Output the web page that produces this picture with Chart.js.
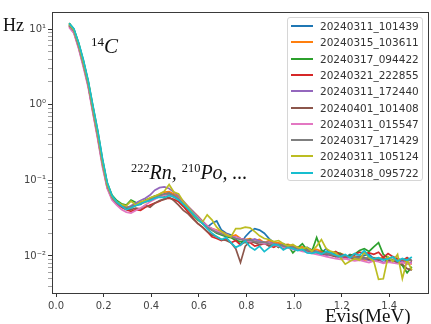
<!DOCTYPE html>
<html>
<head>
<meta charset="utf-8">
<script src="https://cdn.jsdelivr.net/npm/chart.js@4"></script>
<style>
  body { margin: 0; background: #fff; }
  #wrap { position: relative; width: 431px; height: 324px; overflow: hidden; }
  #legend { position: absolute; left: 287px; top: 17px; width: 136px; height: 164px;
    border: 1px solid #d6d6d6; border-radius: 3px; background: rgba(255,255,255,0.8);
    font: 10.5px "DejaVu Sans", sans-serif; color: #333; box-sizing: border-box; }
  .row { position: absolute; left: 0; height: 14px; line-height: 14px; white-space: nowrap; }
  .sw { position: absolute; left: 3px; top: 6px; width: 22px; height: 2px; }
  .lbl { position: absolute; left: 32px; }
  .serif { position: absolute; font-family: "Liberation Serif", "DejaVu Serif", serif; color: #111; white-space: nowrap; }
  .math { font-style: italic; }
  .math sup { font-style: normal; font-size: 62%; vertical-align: 0; position: relative; top: -0.55em; }
</style>
</head>
<body>
<div id="wrap">
  <canvas id="plot" width="431" height="324"></canvas>
  <div id="legend"></div>
  <div class="serif" style="left:3px; top:15px; font-size:18px;">Hz</div>
  <div class="serif math" style="left:91px; top:34px; font-size:21px;"><sup>14</sup>C</div>
  <div class="serif math" style="left:131px; top:161px; font-size:20px;"><sup>222</sup>Rn, <sup>210</sup>Po, ...</div>
  <div class="serif" style="left:325px; top:305px; font-size:19px;">Evis(MeV)</div>
</div>
<script>
// energy bin centres (MeV)
const evis = [0.055,0.075,0.095,0.115,0.135,0.155,0.175,0.195,0.215,0.235,0.255,0.275,0.295,0.315,0.335,0.355,0.375,0.395,0.415,0.435,
  0.455,0.475,0.495,0.515,0.535,0.555,0.575,0.595,0.615,0.635,0.655,0.675,0.695,0.715,0.735,0.755,0.775,0.795,0.815,0.835,
  0.855,0.875,0.895,0.915,0.935,0.955,0.975,0.995,1.015,1.035,1.055,1.075,1.095,1.115,1.135,1.155,1.175,1.195,1.215,1.235,
  1.255,1.275,1.295,1.315,1.335,1.355,1.375,1.395,1.415,1.435,1.455,1.475,1.495]

const runs = ['20240311_101439','20240315_103611','20240317_094422','20240321_222855','20240311_172440',
  '20240401_101408','20240311_015547','20240317_171429','20240311_105124','20240318_095722']

const colors = ['#1f77b4','#ff7f0e','#2ca02c','#d62728','#9467bd','#8c564b','#e377c2','#7f7f7f','#bcbd22','#17becf']

const run0 = [11.2,9.6,6.2,3.6,1.95,0.88,0.41,0.175,0.088,0.061,0.050,
  0.045,0.042,0.045,0.047,0.048,0.053,0.055,0.061,0.063,0.066,0.069,0.064,
  0.059,0.049,0.044,0.036,0.031,0.029,0.024,0.027,0.029,0.022,0.020,0.019,0.017,
  0.014,0.018,0.021,0.023,0.022,0.020,0.017,0.015,0.014,0.0145,0.013,0.0135,0.012,0.0125,0.013,
  0.012,0.0115,0.011,0.0125,0.0105,0.011,0.010,0.0095,0.0105,0.010,0.0098,0.0102,0.0105,0.0092,0.0088,0.0096,0.0085,0.009,0.0092,0.0082,0.0095,0.0086]
const run1 = [11.8,9.8,6.4,3.7,2.0,0.92,0.43,0.18,0.09,0.062,0.052,
  0.047,0.044,0.043,0.047,0.050,0.051,0.057,0.059,0.066,0.070,0.071,0.066,
  0.060,0.052,0.045,0.039,0.034,0.029,0.025,0.023,0.022,0.021,0.0195,0.018,0.019,
  0.017,0.0165,0.017,0.016,0.0165,0.015,0.016,0.0148,0.015,0.014,0.0142,0.0135,0.013,0.0132,0.0125,
  0.012,0.0122,0.0115,0.011,0.0112,0.0105,0.0108,0.0102,0.0095,0.0098,0.0092,0.0088,0.009,0.0095,0.0092,0.0096,0.009,0.0088,0.0085,0.009,0.0082,0.0078]
const run2 = [12.0,10.0,6.5,3.8,2.05,0.95,0.45,0.19,0.092,0.064,0.054,
  0.049,0.047,0.055,0.051,0.049,0.055,0.058,0.062,0.064,0.062,0.066,0.061,
  0.055,0.047,0.041,0.035,0.030,0.027,0.024,0.022,0.020,0.019,0.018,0.0175,0.016,
  0.0155,0.015,0.0165,0.016,0.0155,0.015,0.0148,0.0145,0.013,0.0142,0.0138,0.011,0.0128,0.0145,0.012,
  0.0115,0.0175,0.012,0.011,0.0105,0.0112,0.0108,0.0098,0.0102,0.0106,0.0118,0.0125,0.0115,0.0132,0.015,0.0105,0.0095,0.0088,0.0082,0.0075,0.006,0.0072]
const run3 = [11.0,9.2,5.8,3.3,1.8,0.80,0.37,0.16,0.080,0.057,0.049,
  0.044,0.041,0.039,0.041,0.040,0.044,0.047,0.050,0.053,0.057,0.058,0.056,
  0.052,0.045,0.038,0.032,0.027,0.024,0.021,0.018,0.017,0.016,0.017,0.015,0.016,
  0.014,0.0155,0.015,0.0135,0.014,0.0145,0.0138,0.013,0.0142,0.0128,0.0135,0.0125,0.013,0.012,0.0115,
  0.0118,0.011,0.0112,0.0105,0.0108,0.0115,0.0102,0.0095,0.0098,0.0105,0.0112,0.0108,0.011,0.0105,0.0112,0.0095,0.0108,0.0098,0.0092,0.0088,0.0095,0.0085]
const run4 = [11.4,9.5,6.0,3.5,1.9,0.86,0.40,0.17,0.086,0.060,0.050,
  0.045,0.043,0.046,0.050,0.054,0.058,0.064,0.074,0.080,0.082,0.078,0.070,
  0.062,0.053,0.045,0.039,0.033,0.029,0.025,0.023,0.021,0.020,0.0195,0.018,0.0178,
  0.017,0.0165,0.016,0.0168,0.0158,0.015,0.0152,0.0145,0.014,0.0138,0.0132,0.0128,0.0125,0.012,0.0118,
  0.0112,0.0115,0.0108,0.0102,0.0105,0.0098,0.0095,0.0092,0.0096,0.0088,0.009,0.0093,0.0087,0.0085,0.009,0.0082,0.0086,0.0088,0.008,0.0084,0.0078,0.0082]
const run5 = [10.8,9.0,5.7,3.3,1.8,0.82,0.38,0.165,0.083,0.058,0.050,
  0.045,0.042,0.041,0.043,0.042,0.047,0.044,0.050,0.054,0.056,0.060,0.054,
  0.047,0.040,0.036,0.031,0.027,0.024,0.021,0.019,0.018,0.0165,0.016,0.015,0.0125,
  0.0082,0.0135,0.0155,0.015,0.0142,0.0148,0.0135,0.014,0.0132,0.0128,0.0135,0.0125,0.012,0.0122,0.0115,
  0.011,0.0112,0.0105,0.0108,0.0102,0.0098,0.0105,0.0102,0.0096,0.0092,0.0098,0.0095,0.009,0.0094,0.0088,0.0092,0.0085,0.0088,0.0082,0.0078,0.0068,0.0065]
const run6 = [10.5,8.8,5.5,3.1,1.7,0.76,0.35,0.15,0.078,0.055,0.047,
  0.041,0.038,0.037,0.040,0.043,0.047,0.052,0.056,0.061,0.063,0.064,0.062,
  0.057,0.050,0.043,0.037,0.032,0.028,0.025,0.023,0.0215,0.020,0.019,0.0182,0.0175,
  0.0168,0.016,0.0155,0.0158,0.015,0.0145,0.0148,0.014,0.0135,0.013,0.0128,0.0122,0.012,0.0115,0.0112,
  0.0108,0.0105,0.0102,0.0098,0.0095,0.0092,0.009,0.0092,0.0088,0.0086,0.0088,0.0085,0.0082,0.0086,0.0084,0.008,0.0083,0.0081,0.0079,0.0082,0.0078,0.008]
const run7 = [11.3,9.4,5.9,3.4,1.85,0.84,0.39,0.168,0.084,0.059,0.050,
  0.046,0.044,0.045,0.048,0.050,0.053,0.056,0.060,0.063,0.066,0.067,0.063,
  0.057,0.049,0.042,0.036,0.031,0.027,0.024,0.022,0.0205,0.0195,0.0185,0.018,0.017,
  0.0165,0.016,0.0162,0.0155,0.015,0.0152,0.0145,0.014,0.0142,0.0135,0.013,0.0132,0.0126,0.0122,0.012,
  0.0115,0.0112,0.011,0.0108,0.0104,0.0102,0.0098,0.0101,0.0097,0.0095,0.0096,0.0093,0.0095,0.0091,0.0093,0.009,0.0092,0.0089,0.0087,0.009,0.0086,0.0088]
const run8 = [11.6,9.7,6.3,3.6,1.98,0.9,0.42,0.178,0.088,0.061,0.052,
  0.048,0.046,0.053,0.047,0.052,0.054,0.059,0.062,0.066,0.072,0.088,0.070,
  0.066,0.052,0.044,0.037,0.031,0.028,0.035,0.030,0.024,0.021,0.019,0.018,0.023,
  0.023,0.024,0.0235,0.021,0.0185,0.017,0.0165,0.0155,0.016,0.0145,0.0135,0.0142,0.013,0.0125,0.013,
  0.0115,0.0135,0.0165,0.0125,0.0115,0.011,0.0095,0.0078,0.0085,0.0092,0.0088,0.0112,0.0095,0.0085,0.0049,0.0050,0.0098,0.0085,0.0105,0.005,0.0088,0.0065]
const run9 = [11.9,10.1,6.6,3.9,2.1,0.97,0.46,0.195,0.094,0.063,0.052,
  0.046,0.041,0.043,0.046,0.049,0.052,0.054,0.058,0.060,0.059,0.063,0.060,
  0.055,0.048,0.042,0.036,0.031,0.027,0.023,0.020,0.018,0.0165,0.0175,0.015,0.013,
  0.014,0.0158,0.0132,0.012,0.0135,0.0114,0.0128,0.0142,0.0138,0.012,0.013,0.0125,0.0118,0.0122,0.011,
  0.0108,0.0112,0.0105,0.0115,0.011,0.0102,0.0098,0.0105,0.0095,0.0108,0.0102,0.0118,0.0098,0.0092,0.0095,0.0088,0.0092,0.0098,0.0085,0.0093,0.0088,0.0097]

const rates = [run0, run1, run2, run3, run4, run5, run6, run7, run8, run9]

const xTicks = [0, 0.2, 0.4, 0.6, 0.8, 1.0, 1.2, 1.4]
const supers = {'-': '\u207b', '0': '\u2070', '1': '\u00b9', '2': '\u00b2', '3': '\u00b3'}

// legend drawn as html inside the axes, like matplotlib's upper right box
const legend = document.getElementById('legend')
runs.forEach((name, i) => {
  const row = document.createElement('div')
  row.className = 'row'
  row.style.top = (1 + i * 16.3) + 'px'
  row.innerHTML = '<span class="sw" style="background:' + colors[i] + '"></span><span class="lbl">' + name + '</span>'
  legend.appendChild(row)
})

const frame = {
  id: 'frame',
  afterDraw(chart) {
    const a = chart.chartArea, ctx = chart.ctx
    ctx.save()
    ctx.strokeStyle = '#3a3a3a'
    ctx.lineWidth = 1
    ctx.strokeRect(Math.round(a.left) + 0.5, Math.round(a.top) + 0.5, Math.round(a.right - a.left) - 1, Math.round(a.bottom - a.top))
    ctx.restore()
  }
}

const chart = new Chart(document.getElementById('plot'), {
  type: 'line',
  data: {
    datasets: runs.map((name, i) => ({
      label: name,
      data: evis.map((x, k) => ({x: x, y: rates[i][k]})),
      borderColor: colors[i],
      backgroundColor: colors[i],
      borderWidth: 1.7,
      pointRadius: 0,
      tension: 0,
      order: 9 - i
    }))
  },
  options: {
    responsive: false,
    animation: false,
    events: [],
    layout: { padding: { top: 12, right: 2, left: 0, bottom: 0 } },
    plugins: { legend: { display: false }, tooltip: { enabled: false } },
    scales: {
      x: {
        type: 'linear',
        min: -0.017, max: 1.567,
        afterFit: s => { s.height = 31 },
        afterBuildTicks: s => { s.ticks = xTicks.map(v => ({value: v})) },
        border: { display: false },
        grid: { drawOnChartArea: false, drawTicks: true, tickLength: 4, tickColor: '#333', tickWidth: 1 },
        ticks: { padding: 3, color: '#444', font: { family: 'DejaVu Sans', size: 10 },
          callback: v => v.toFixed(1) }
      },
      y: {
        type: 'logarithmic',
        min: 0.00324, max: 16.8,
        afterFit: s => { s.width = 52 },
        afterBuildTicks: s => {
          const t = []
          for (let e = -3; e <= 1; e++)
            for (let m = 1; m <= 9; m++) {
              const v = m * Math.pow(10, e)
              if (v >= s.min && v <= s.max) t.push({value: v, major: m === 1})
            }
          s.ticks = t
        },
        border: { display: false },
        grid: { drawOnChartArea: false, drawTicks: true, tickLength: 4,
          tickColor: c => c.tick && c.tick.major ? '#333' : '#666',
          tickWidth: c => c.tick && c.tick.major ? 1 : 0.6 },
        ticks: { padding: 2, autoSkip: false, color: '#444', font: { family: 'DejaVu Sans', size: 10 },
          callback: function (v) {
            const e = Math.log10(v)
            if (Math.abs(e - Math.round(e)) > 1e-6) return ''
            return '10' + String(Math.round(e)).split('').map(ch => supers[ch]).join('')
          } }
      }
    }
  },
  plugins: [frame]
})
</script>
</body>
</html>
